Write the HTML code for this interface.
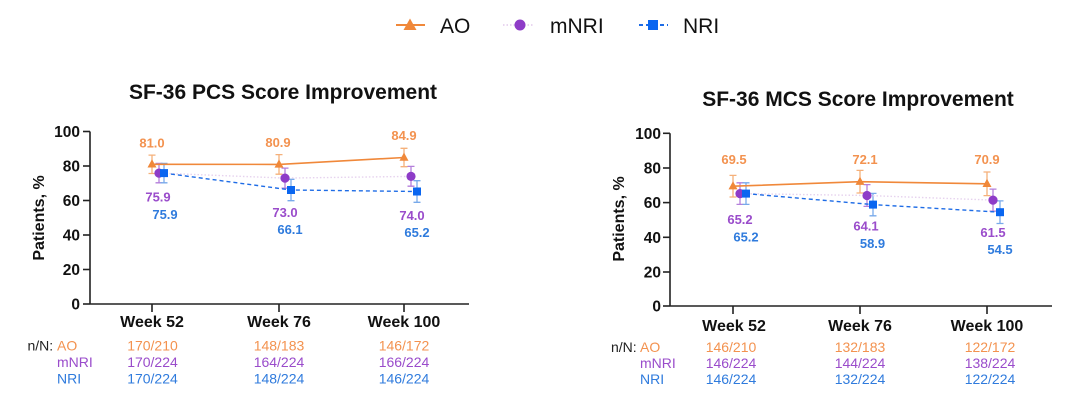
<!DOCTYPE html>
<html><head><meta charset="utf-8"><style>
html,body{margin:0;padding:0;background:#fff;}
svg{display:block;}
text{font-family:"Liberation Sans",Arial,sans-serif;}
.t{font-size:21px;font-weight:bold;fill:#111;text-anchor:middle;}
.yl{font-size:15.5px;font-weight:bold;fill:#111;text-anchor:end;}
.yt{font-size:16px;font-weight:bold;fill:#111;text-anchor:middle;}
.wk{font-size:16px;font-weight:bold;fill:#111;text-anchor:middle;}
.dl{font-size:13px;font-weight:bold;text-anchor:middle;}
.tb{font-size:14px;}
.tbc{font-size:14px;text-anchor:middle;}
.o{fill:#F0883A;}.p{fill:#8E3CC8;}.b{fill:#2A78E0;}
.ot{fill:#F3924F;}.pt{fill:#9A4CCB;}.bt{fill:#2F7BDD;}
.lg{font-size:21px;fill:#111;}
</style></head><body>
<svg width="1080" height="404" viewBox="0 0 1080 404" xmlns="http://www.w3.org/2000/svg">
<rect width="1080" height="404" fill="#fff"/>
<!-- Legend -->
<line x1="396" y1="25" x2="425" y2="25" stroke="#F0883A" stroke-width="2"/>
<polygon points="410,18.5 416.5,30 403.5,30" fill="#F0883A"/>
<text x="440" y="33" class="lg">AO</text>
<line x1="503" y1="25" x2="534" y2="25" stroke="#E2C8EC" stroke-width="1.6" stroke-dasharray="1.5,2"/>
<circle cx="520" cy="25" r="5.5" fill="#8E3CC8"/>
<text x="550" y="33" class="lg">mNRI</text>
<line x1="639" y1="25" x2="668" y2="25" stroke="#1E6CE6" stroke-width="2" stroke-dasharray="4,3"/>
<rect x="648" y="20" width="10" height="10" fill="#0A66F0"/>
<text x="683" y="33" class="lg">NRI</text>

<!-- LEFT CHART -->
<text x="283" y="99" class="t">SF-36 PCS Score Improvement</text>
<text class="yt" transform="translate(44,218) rotate(-90)">Patients, %</text>
<g stroke="#222" stroke-width="1.6" fill="none">
<line x1="90" y1="131.5" x2="90" y2="304"/>
<line x1="90" y1="304" x2="469" y2="304"/>
<line x1="83" y1="131.5" x2="90" y2="131.5"/>
<line x1="83" y1="166" x2="90" y2="166"/>
<line x1="83" y1="200.5" x2="90" y2="200.5"/>
<line x1="83" y1="235" x2="90" y2="235"/>
<line x1="83" y1="269.5" x2="90" y2="269.5"/>
<line x1="83" y1="304" x2="90" y2="304"/>
<line x1="152" y1="304" x2="152" y2="312"/>
<line x1="279" y1="304" x2="279" y2="312"/>
<line x1="404" y1="304" x2="404" y2="312"/>
</g>
<text x="80" y="137" class="yl">100</text>
<text x="80" y="171.5" class="yl">80</text>
<text x="80" y="206" class="yl">60</text>
<text x="80" y="240.5" class="yl">40</text>
<text x="80" y="275" class="yl">20</text>
<text x="80" y="309.5" class="yl">0</text>
<text x="152" y="327" class="wk">Week 52</text>
<text x="279" y="327" class="wk">Week 76</text>
<text x="404" y="327" class="wk">Week 100</text>

<!-- error bars left -->
<g stroke="#F5B07A" stroke-width="1.3" fill="none">
<path d="M152,155.1V173.5M148.5,155.1H155.5M148.5,173.5H155.5"/>
<path d="M279,154.6V174.2M275.5,154.6H282.5M275.5,174.2H282.5"/>
<path d="M404,148.3V166.7M400.5,148.3H407.5M400.5,166.7H407.5"/>
</g>
<g stroke="#B47FDB" stroke-width="1.3" fill="none">
<path d="M159,163.4V182.8M155.5,163.4H162.5M155.5,182.8H162.5"/>
<path d="M285,168.1V188.1M281.5,168.1H288.5M281.5,188.1H288.5"/>
<path d="M411,166.4V186.2M407.5,166.4H414.5M407.5,186.2H414.5"/>
</g>
<g stroke="#78AAEA" stroke-width="1.3" fill="none">
<path d="M164,163.4V182.8M160.5,163.4H167.5M160.5,182.8H167.5"/>
<path d="M291,179.3V200.7M287.5,179.3H294.5M287.5,200.7H294.5"/>
<path d="M417,180.7V202.3M413.5,180.7H420.5M413.5,202.3H420.5"/>
</g>
<!-- lines left -->
<polyline points="159,173.1 285,178.1 411,176.4" fill="none" stroke="#E6D2EE" stroke-width="1.4" stroke-dasharray="1.5,2"/>
<polyline points="164,173.1 291,190 417,191.5" fill="none" stroke="#1E6CE6" stroke-width="1.4" stroke-dasharray="4,3"/>
<polyline points="152,164.3 279,164.4 404,157.5" fill="none" stroke="#F0883A" stroke-width="1.6"/>
<!-- markers left -->
<g fill="#F0883A">
<polygon points="152,159.3 156.5,167.5 147.5,167.5"/>
<polygon points="279,159.4 283.5,167.6 274.5,167.6"/>
<polygon points="404,152.5 408.5,160.7 399.5,160.7"/>
</g>
<g fill="#8E3CC8">
<circle cx="159" cy="173.1" r="4.6"/>
<circle cx="285" cy="178.1" r="4.6"/>
<circle cx="411" cy="176.4" r="4.6"/>
</g>
<g fill="#0A66F0">
<rect x="160" y="169.1" width="8" height="8"/>
<rect x="287" y="186" width="8" height="8"/>
<rect x="413" y="187.5" width="8" height="8"/>
</g>
<!-- data labels left -->
<text x="152" y="147.5" class="dl ot">81.0</text>
<text x="278" y="147" class="dl ot">80.9</text>
<text x="404" y="140" class="dl ot">84.9</text>
<text x="158" y="201.5" class="dl pt">75.9</text>
<text x="285" y="217" class="dl pt">73.0</text>
<text x="412" y="220" class="dl pt">74.0</text>
<text x="165" y="219" class="dl bt">75.9</text>
<text x="290" y="234" class="dl bt">66.1</text>
<text x="417" y="237" class="dl bt">65.2</text>
<!-- table left -->
<text x="27.5" y="350.5" class="tb" fill="#222">n/N:</text>
<text x="57" y="350.5" class="tb ot">AO</text>
<text x="57" y="366.8" class="tb pt">mNRI</text>
<text x="57" y="383.3" class="tb bt">NRI</text>
<text x="152.5" y="350.5" class="tbc ot">170/210</text>
<text x="279" y="350.5" class="tbc ot">148/183</text>
<text x="404" y="350.5" class="tbc ot">146/172</text>
<text x="152.5" y="366.8" class="tbc pt">170/224</text>
<text x="279" y="366.8" class="tbc pt">164/224</text>
<text x="404" y="366.8" class="tbc pt">166/224</text>
<text x="152.5" y="383.3" class="tbc bt">170/224</text>
<text x="279" y="383.3" class="tbc bt">148/224</text>
<text x="404" y="383.3" class="tbc bt">146/224</text>

<!-- RIGHT CHART -->
<text x="858" y="106" class="t">SF-36 MCS Score Improvement</text>
<text class="yt" transform="translate(624,219) rotate(-90)">Patients, %</text>
<g stroke="#222" stroke-width="1.6" fill="none">
<line x1="670" y1="133.3" x2="670" y2="306"/>
<line x1="670" y1="306" x2="1052" y2="306"/>
<line x1="663" y1="133.3" x2="670" y2="133.3"/>
<line x1="663" y1="168" x2="670" y2="168"/>
<line x1="663" y1="202.6" x2="670" y2="202.6"/>
<line x1="663" y1="237.3" x2="670" y2="237.3"/>
<line x1="663" y1="272" x2="670" y2="272"/>
<line x1="663" y1="306" x2="670" y2="306"/>
<line x1="733" y1="306" x2="733" y2="314"/>
<line x1="860" y1="306" x2="860" y2="314"/>
<line x1="987" y1="306" x2="987" y2="314"/>
</g>
<text x="661" y="138.8" class="yl">100</text>
<text x="661" y="173.5" class="yl">80</text>
<text x="661" y="208.1" class="yl">60</text>
<text x="661" y="242.8" class="yl">40</text>
<text x="661" y="277.5" class="yl">20</text>
<text x="661" y="311.5" class="yl">0</text>
<text x="734" y="331" class="wk">Week 52</text>
<text x="860" y="331" class="wk">Week 76</text>
<text x="987" y="331" class="wk">Week 100</text>

<!-- error bars right -->
<g stroke="#F5B07A" stroke-width="1.3" fill="none">
<path d="M733,175.4V197M729.5,175.4H736.5M729.5,197H736.5"/>
<path d="M860,170.4V193M856.5,170.4H863.5M856.5,193H863.5"/>
<path d="M987,172V195.6M983.5,172H990.5M983.5,195.6H990.5"/>
</g>
<g stroke="#B47FDB" stroke-width="1.3" fill="none">
<path d="M740,182.8V204.4M736.5,182.8H743.5M736.5,204.4H743.5"/>
<path d="M867,184.6V206.4M863.5,184.6H870.5M863.5,206.4H870.5"/>
<path d="M993,189.1V211.1M989.5,189.1H996.5M989.5,211.1H996.5"/>
</g>
<g stroke="#78AAEA" stroke-width="1.3" fill="none">
<path d="M746,182.8V204.4M742.5,182.8H749.5M742.5,204.4H749.5"/>
<path d="M873,193.4V215.8M869.5,193.4H876.5M869.5,215.8H876.5"/>
<path d="M1000,200.9V223.5M996.5,200.9H1003.5M996.5,223.5H1003.5"/>
</g>
<polyline points="740,193.6 867,195.5 993,200.1" fill="none" stroke="#E6D2EE" stroke-width="1.4" stroke-dasharray="1.5,2"/>
<polyline points="746,193.6 873,204.6 1000,212.2" fill="none" stroke="#1E6CE6" stroke-width="1.4" stroke-dasharray="4,3"/>
<polyline points="733,186.2 860,181.7 987,183.8" fill="none" stroke="#F0883A" stroke-width="1.6"/>
<g fill="#F0883A">
<polygon points="733,181.2 737.5,189.4 728.5,189.4"/>
<polygon points="860,176.7 864.5,184.9 855.5,184.9"/>
<polygon points="987,178.8 991.5,187 982.5,187"/>
</g>
<g fill="#8E3CC8">
<circle cx="740" cy="193.6" r="4.6"/>
<circle cx="867" cy="195.5" r="4.6"/>
<circle cx="993" cy="200.1" r="4.6"/>
</g>
<g fill="#0A66F0">
<rect x="742" y="189.6" width="8" height="8"/>
<rect x="869" y="200.6" width="8" height="8"/>
<rect x="996" y="208.2" width="8" height="8"/>
</g>
<text x="734" y="164" class="dl ot">69.5</text>
<text x="865" y="164" class="dl ot">72.1</text>
<text x="987" y="164" class="dl ot">70.9</text>
<text x="740" y="224" class="dl pt">65.2</text>
<text x="866" y="230.7" class="dl pt">64.1</text>
<text x="993" y="237" class="dl pt">61.5</text>
<text x="746" y="241.7" class="dl bt">65.2</text>
<text x="872.5" y="248" class="dl bt">58.9</text>
<text x="1000" y="254" class="dl bt">54.5</text>
<text x="611" y="352" class="tb" fill="#222">n/N:</text>
<text x="640" y="352" class="tb ot">AO</text>
<text x="640" y="368" class="tb pt">mNRI</text>
<text x="640" y="384" class="tb bt">NRI</text>
<text x="731" y="352" class="tbc ot">146/210</text>
<text x="860" y="352" class="tbc ot">132/183</text>
<text x="990" y="352" class="tbc ot">122/172</text>
<text x="731" y="368" class="tbc pt">146/224</text>
<text x="860" y="368" class="tbc pt">144/224</text>
<text x="990" y="368" class="tbc pt">138/224</text>
<text x="731" y="384" class="tbc bt">146/224</text>
<text x="860" y="384" class="tbc bt">132/224</text>
<text x="990" y="384" class="tbc bt">122/224</text>
</svg>
</body></html>
